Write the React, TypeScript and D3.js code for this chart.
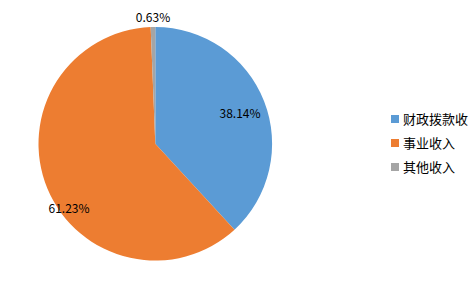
import React from "react";
import * as d3 from "d3";

const categories = ["财政拨款收", "事业收入", "其他收入"];
const values = [38.14, 61.23, 0.63];
const labels = ["38.14%", "61.23%", "0.63%"];
const colors = ["#5B9BD5", "#ED7D31", "#A5A5A5"];

export default function App() {
  const W = 476, H = 287;
  const cx = 155.3, cy = 143.8, r = 116.8;
  const pie = d3.pie<number>().sort(null).value((d) => d)(values);
  const arc = d3.arc<d3.PieArcDatum<number>>().innerRadius(0).outerRadius(r);
  const labelPos: [number, number][] = [
    [240, 117.5],
    [69, 212.5],
    [153, 21.5],
  ];
  const font = "'Noto Sans CJK SC', 'Noto Sans', sans-serif";
  return (
    <svg width={W} height={H} style={{ position: "absolute", left: 0, top: 0 }}>
      <rect width={W} height={H} fill="#fff" />
      <g transform={`translate(${cx},${cy})`}>
        {pie.map((p, i) => (
          <path key={i} d={arc(p) || ""} fill={colors[i]} />
        ))}
      </g>
      {labels.map((t, i) => (
        <text
          key={i}
          x={labelPos[i][0]}
          y={labelPos[i][1]}
          textAnchor="middle"
          fontSize={12}
          fontFamily={font}
          fill="#000"
        >
          {t}
        </text>
      ))}
      {categories.map((c, i) => (
        <g key={i} transform={`translate(391,${115 + i * 24})`}>
          <rect x={0} y={0} width={8} height={8} fill={colors[i]} />
          <text x={12} y={9} fontSize={13} fontFamily={font} fill="#000">
            {c}
          </text>
        </g>
      ))}
    </svg>
  );
}
